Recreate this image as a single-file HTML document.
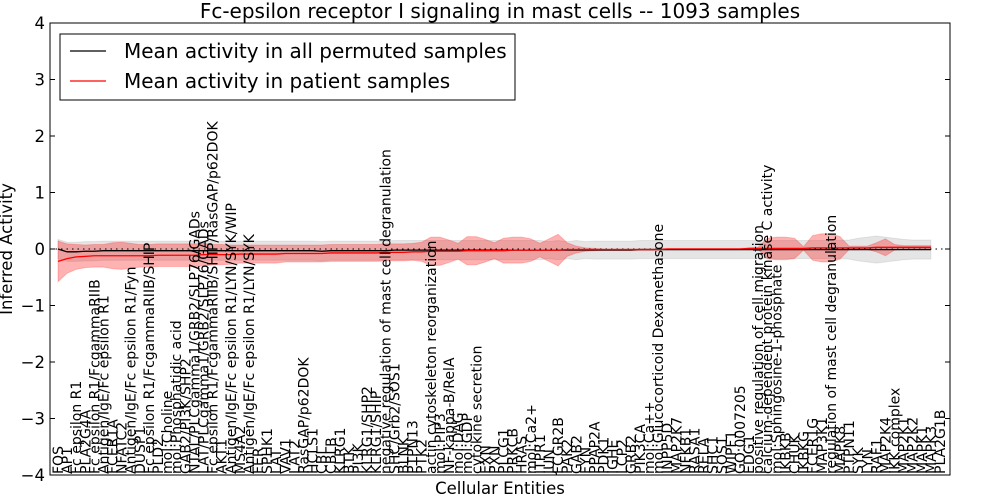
<!DOCTYPE html>
<html><head><meta charset="utf-8"><style>
body{margin:0;background:#fff}
svg{display:block;font-family:"DejaVu Sans","Liberation Sans",sans-serif}
</style></head><body>
<svg id="chart" width="1000" height="500" viewBox="0 0 1000 500">
<rect x="0" y="0" width="1000" height="500" fill="#fff"/>
<text x="500" y="18" font-size="20" text-anchor="middle">Fc-epsilon receptor I signaling in mast cells -- 1093 samples</text>
<g id="plot"></g>
<rect x="50" y="23" width="900" height="452" fill="none" stroke="#000" stroke-width="1"/>
<text transform="translate(12,249) rotate(-90)" font-size="16.5" text-anchor="middle">Inferred Activity</text>
<text x="500" y="494" font-size="16.5" text-anchor="middle">Cellular Entities</text>
<g>
<rect x="60" y="34" width="455" height="66" fill="#fff" stroke="#000"/>
<line x1="70" y1="51" x2="106" y2="51" stroke="#000" stroke-width="1.3"/>
<text x="124" y="58" font-size="20">Mean activity in all permuted samples</text>
<line x1="70" y1="81" x2="106" y2="81" stroke="#f00" stroke-width="1.3"/>
<text x="124" y="88" font-size="20">Mean activity in patient samples</text>
</g>
</svg>
<script>
const categories=["FOS","AP1","Fc epsilon R1","PLA2G4A","Fc epsilon R1/FcgammaRIIB","Antigen/IgE/Fc epsilon R1","FCER1A","NFATC2","Antigen/IgE/Fc epsilon R1/Fyn","DUSP1",
"Fc epsilon R1/FcgammaRIIB/SHIP","PLD2","mol:Choline","mol:Phosphatidic acid","GAB2/PI3K/SHP2","NTAL/PLCgamma1/GRB2/SLP76/GADs","LAT/PLCgamma1/GRB2/SLP76/GADs","Fc epsilon R1/FcgammaRIIB/SHIP/RasGAP/p62DOK","AKT1","Antigen/IgE/Fc epsilon R1/LYN/SYK/WIP",
"MS4A2","Antigen/IgE/Fc epsilon R1/LYN/SYK","FER","SPHK1","LAT","VAV1","LAT2","RasGAP/p62DOK","HCLS1","CBL",
"CBLB","KLRG1","BTK","PI3K","KLRG1/SHP2","KLRG1/SHIP","negative regulation of mast cell degranulation","SHC/Grb2/SOS1","BLNK","PTPN13",
"PTK2","actin cytoskeleton reorganization","mol:PIP3","NF-kappa-B/RelA","mol:DAG","mol:GDP","cytokine secretion","EXN","PXN","PLCG1",
"PRKCB","HRAS","mol:Ca2+","ITPR1","JUN","FCGR2B","PAK2","GAB2","FYN","PPAP2A",
"PDK1","IGHE","LCP2","GRB2","PIK3CA","mol:Ca++","mol:Glucocorticoid Dexamethasone","INPP5D","MAP2K7","NFKB1",
"RASA1","RELA","SHC1","SOS1","WIPF1","GO:0007205","EDG1","positive regulation of cell migration","calcium-dependent protein kinase C activity","mol:Sphingosine-1-phosphate",
"IKBKB","CHUK","IKBKG","FCER1G","MAP3K1","regulation of mast cell degranulation","MAPK8","PTPN11","SYK","LYN",
"RAF1","MAP2K4","IKK complex","MAP2K1","MAP2K2","MAPK1","MAPK3","PLA2G1B"];
const patientMean=[-0.22,-0.17,-0.14,-0.13,-0.12,-0.12,-0.12,-0.12,-0.12,-0.12,
-0.12,-0.11,-0.11,-0.11,-0.11,-0.11,-0.10,-0.10,-0.10,-0.10,
-0.09,-0.09,-0.09,-0.09,-0.09,-0.08,-0.08,-0.08,-0.08,-0.08,
-0.07,-0.07,-0.07,-0.07,-0.07,-0.07,-0.06,-0.06,-0.06,-0.05,
-0.05,-0.04,-0.04,-0.04,-0.04,-0.03,-0.03,-0.03,-0.03,-0.03,
-0.02,-0.02,-0.02,-0.02,-0.02,-0.02,-0.01,-0.01,-0.01,-0.01,
-0.01,-0.01,-0.01,-0.01,-0.01,-0.01,-0.01,0,0,0,
0,0,0,0,0,0,0.01,0.01,0.01,0.01,
0.01,0.01,0.01,0.02,0.02,0.02,0.02,0.02,0.02,0.02,
0.03,0.03,0.03,0.03,0.03,0.03,0.03];
const patientSpread=[0.36,0.26,0.22,0.2,0.2,0.2,0.23,0.24,0.22,0.2,
0.2,0.2,0.2,0.2,0.2,0.2,0.2,0.18,0.18,0.17,
0.16,0.16,0.16,0.16,0.16,0.15,0.15,0.15,0.15,0.15,
0.15,0.15,0.15,0.15,0.15,0.15,0.15,0.15,0.15,0.15,
0.17,0.25,0.25,0.2,0.14,0.25,0.25,0.2,0.14,0.22,
0.23,0.23,0.2,0.12,0.2,0.28,0.12,0.06,0.03,0.02,
0.01,0.01,0.01,0.01,0.01,0.01,0.01,0.01,0.01,0.01,
0.01,0.01,0.01,0.01,0.01,0.01,0.01,0.02,0.18,0.2,
0.2,0.18,0.03,0.22,0.25,0.25,0.2,0.03,0.03,0.03,
0.08,0.15,0.05,0.03,0.03,0.03,0.03];
const permutedMean=[0,-0.05,-0.05,-0.04,-0.04,-0.03,-0.03,-0.03,-0.03,-0.03,
-0.03,-0.03,-0.03,-0.03,-0.03,-0.03,-0.03,-0.03,-0.03,-0.03,
-0.03,-0.03,-0.03,-0.03,-0.03,-0.03,-0.03,-0.03,-0.03,-0.04,
-0.03,-0.03,-0.03,-0.03,-0.03,-0.03,-0.03,-0.02,-0.02,-0.02,
-0.02,-0.02,-0.02,-0.02,-0.02,-0.02,-0.02,-0.02,-0.02,-0.02,
-0.02,-0.02,-0.02,-0.02,-0.02,-0.02,-0.02,-0.02,-0.02,-0.02,
-0.02,-0.02,-0.02,-0.02,-0.01,-0.01,-0.01,-0.01,-0.01,-0.01,
-0.01,-0.01,-0.01,-0.01,-0.01,-0.01,-0.01,-0.01,-0.01,-0.01,
-0.01,-0.01,-0.01,-0.01,-0.01,-0.01,-0.01,-0.01,-0.01,-0.01,
-0.01,-0.01,-0.01,-0.01,-0.01,-0.01,-0.01];
const permutedSpread=[0.17,0.17,0.17,0.17,0.17,0.17,0.17,0.17,0.17,0.17,
0.17,0.17,0.17,0.17,0.17,0.17,0.17,0.17,0.17,0.17,
0.17,0.17,0.17,0.17,0.17,0.17,0.17,0.17,0.17,0.17,
0.17,0.17,0.17,0.17,0.17,0.17,0.17,0.17,0.17,0.17,
0.17,0.17,0.17,0.17,0.17,0.17,0.17,0.17,0.17,0.17,
0.17,0.17,0.17,0.17,0.15,0.17,0.15,0.17,0.15,0.16,
0.16,0.16,0.16,0.16,0.16,0.16,0.16,0.16,0.16,0.16,
0.16,0.16,0.16,0.16,0.16,0.16,0.16,0.16,0.16,0.16,
0.16,0.16,0.16,0.16,0.16,0.16,0.16,0.17,0.2,0.22,
0.24,0.22,0.2,0.18,0.17,0.17,0.17];
const yTicks=[4,3,2,1,0,-1,-2,-3,-4];

const NS="http://www.w3.org/2000/svg";
const plot=document.getElementById('plot');
function xs(i){return 58+i*(882/(categories.length-1));}
function ys(v){return 249-v*56.5;}
function mk(tag,attrs){const e=document.createElementNS(NS,tag);for(const k in attrs)e.setAttribute(k,attrs[k]);plot.appendChild(e);return e;}
function band(mean,spread){
  let d='';
  for(let i=0;i<mean.length;i++)d+=(i?'L':'M')+xs(i)+','+ys(mean[i]+spread[i]);
  for(let i=mean.length-1;i>=0;i--)d+='L'+xs(i)+','+ys(mean[i]-spread[i]);
  return d+'Z';
}
function line(mean){let d='';for(let i=0;i<mean.length;i++)d+=(i?'L':'M')+xs(i)+','+ys(mean[i]);return d;}

const gb=mk('path',{d:band(permutedMean,permutedSpread),fill:'#000','fill-opacity':0.1,stroke:'#000','stroke-opacity':0.08});


const rb=mk('path',{d:band(patientMean,patientSpread),fill:'#f00','fill-opacity':0.3,stroke:'#f00','stroke-opacity':0.2});


const zl=mk('line',{x1:50,x2:950,y1:ys(0),y2:ys(0),stroke:'#000','stroke-dasharray':'1.5,4','stroke-width':1});


const gl=mk('path',{d:line(permutedMean),fill:'none',stroke:'#000','stroke-width':1.3});


const rl=mk('path',{d:line(patientMean),fill:'none',stroke:'#f00','stroke-width':1.3});



yTicks.forEach(t=>{
  const y=ys(t);
  const a=mk('line',{x1:50,x2:55,y1:y,y2:y,stroke:'#000'});
  
  
  const b=mk('line',{x1:945,x2:950,y1:y,y2:y,stroke:'#000'});
  
  
  const tx=mk('text',{x:45,y:y+6,'font-size':16.5,'text-anchor':'end'});
  tx.textContent=(t<0?'\u2212'+(-t):String(t));
  
  
});
categories.forEach((c,i)=>{
  const x=xs(i)+5;
  const tx=mk('text',{transform:'translate('+x+',474) rotate(-90)','font-size':14});
  tx.textContent=c;
  
  
});
</script>
</body></html>
